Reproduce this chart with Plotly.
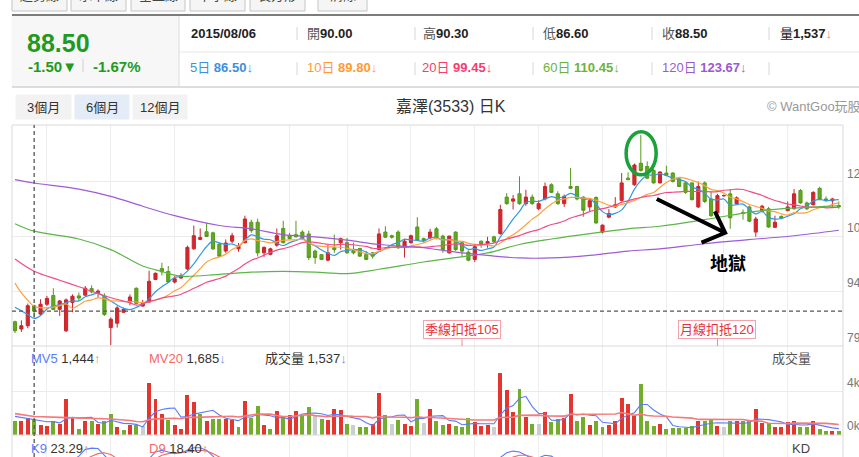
import numpy as np
import pandas as pd
import plotly.graph_objects as go
from plotly.subplots import make_subplots

W, H = 859, 457

# daily candles (6 months of 3533)
opens = [85.6, 83.6, 84.5, 90.0, 87.7, 90.4, 92.8, 89.0, 83.1, 90.9,
         92.7, 92.9, 94.7, 93.6, 92.6, 84.0, 85.2, 88.2, 91.0, 94.8,
         89.9, 91.0, 97.2, 100.2, 99.4, 96.5, 97.6, 100.1, 105.6, 108.2,
         110.3, 110.0, 106.9, 105.0, 107.7, 105.6, 107.3, 112.9, 112.9, 104.5,
         104.1, 106.6, 111.2, 109.2, 109.5, 110.2, 109.7, 105.0, 104.0, 102.5,
         105.9, 107.3, 107.3, 105.1, 105.7, 104.1, 104.5, 105.4, 110.2, 109.2,
         110.2, 106.2, 107.3, 111.6, 108.4, 108.6, 111.1, 109.1, 104.5, 110.2,
         107.3, 104.7, 102.7, 107.7, 107.1, 108.9, 109.8, 119.8, 118.7, 120.7,
         118.0, 119.8, 116.6, 119.3, 123.2, 120.7, 118.0, 122.7, 122.7, 119.8,
         117.1, 119.7, 110.2, 114.3, 117.1, 118.9, 125.0, 123.2, 129.1, 128.2,
         127.1, 123.7, 126.4, 126.4, 124.8, 123.7, 123.7, 117.1, 123.7, 119.3,
         115.5, 120.2, 120.7, 118.0, 115.6, 117.1, 110.2, 115.9, 116.6, 111.5,
         114.5, 116.1, 116.6, 121.6, 118.2, 117.7, 122.2, 119.3, 118.8, 117.5]
highs = [85.9, 86.0, 90.6, 90.3, 91.8, 92.7, 94.8, 91.6, 92.0, 93.1,
         93.6, 95.4, 95.6, 94.5, 93.4, 86.8, 89.9, 89.5, 93.1, 95.0,
         91.6, 99.6, 99.1, 101.8, 100.9, 98.1, 98.9, 106.5, 112.0, 111.2,
         112.7, 110.3, 107.2, 108.2, 110.0, 107.2, 114.7, 113.6, 113.9, 106.3,
         105.9, 111.2, 113.3, 110.0, 113.3, 110.7, 110.6, 105.4, 104.2, 106.8,
         109.5, 108.7, 108.6, 107.3, 105.9, 105.0, 104.7, 111.2, 111.8, 109.5,
         110.7, 108.4, 109.5, 114.3, 108.7, 111.1, 111.6, 109.5, 109.2, 110.4,
         107.4, 105.2, 106.8, 107.9, 108.9, 109.2, 117.7, 120.9, 120.4, 125.5,
         121.8, 120.5, 118.9, 123.8, 123.6, 121.4, 120.5, 127.8, 122.9, 120.0,
         119.3, 120.0, 112.3, 116.5, 119.8, 126.4, 126.6, 129.0, 136.8, 129.6,
         127.5, 126.8, 128.4, 126.6, 125.0, 124.1, 123.8, 124.1, 124.1, 121.4,
         120.7, 120.5, 122.0, 120.0, 116.4, 117.5, 114.4, 117.7, 117.1, 114.7,
         114.8, 118.6, 122.0, 122.0, 118.6, 121.4, 122.6, 120.0, 119.6, 118.6]
lows = [82.5, 82.8, 83.8, 86.6, 87.2, 89.9, 88.8, 87.2, 82.8, 88.2,
        91.3, 92.7, 93.4, 92.2, 87.2, 79.2, 84.0, 88.1, 90.1, 90.4,
        89.8, 90.8, 97.0, 98.3, 96.3, 96.1, 97.4, 99.8, 105.4, 108.0,
        108.9, 105.3, 103.3, 104.5, 107.1, 104.8, 107.1, 110.0, 103.5, 103.4,
        103.8, 106.2, 107.1, 108.2, 108.8, 108.0, 102.5, 101.5, 102.5, 102.2,
        104.5, 105.4, 104.3, 104.1, 103.4, 102.5, 102.9, 105.2, 108.6, 108.4,
        105.6, 103.2, 107.0, 107.7, 107.3, 108.2, 108.2, 104.5, 104.3, 105.0,
        103.4, 102.2, 102.0, 105.9, 105.9, 107.2, 109.5, 117.7, 116.4, 117.7,
        117.4, 117.7, 116.2, 118.9, 120.9, 117.7, 117.1, 122.0, 118.9, 114.4,
        115.9, 112.5, 109.8, 114.0, 116.8, 118.6, 124.4, 122.9, 126.8, 124.8,
        123.5, 123.5, 125.6, 123.8, 122.6, 120.7, 118.9, 116.8, 118.2, 114.4,
        115.0, 119.9, 111.1, 117.7, 113.6, 112.9, 108.9, 115.6, 111.4, 111.4,
        113.7, 115.9, 116.4, 118.0, 116.2, 117.5, 118.9, 118.6, 116.8, 116.6]
closes = [83.1, 84.5, 90.0, 88.5, 90.4, 92.0, 89.0, 91.3, 91.6, 92.6,
          92.1, 94.8, 93.8, 94.0, 87.6, 86.3, 89.4, 89.0, 92.4, 90.6,
          90.6, 96.7, 98.9, 99.3, 96.5, 97.4, 98.3, 106.0, 109.2, 108.7,
          109.0, 105.6, 103.6, 107.2, 109.2, 106.3, 113.8, 110.6, 104.5, 106.0,
          105.6, 109.2, 107.3, 108.4, 108.9, 108.4, 103.2, 103.2, 102.7, 104.5,
          105.4, 108.4, 104.5, 104.5, 103.6, 102.7, 103.6, 109.7, 108.8, 108.8,
          105.9, 107.7, 109.2, 107.9, 107.9, 110.2, 108.6, 105.4, 109.1, 105.4,
          105.0, 102.5, 106.2, 106.7, 107.6, 107.6, 116.4, 118.0, 119.3, 118.0,
          119.8, 118.0, 118.0, 122.7, 121.1, 118.0, 120.0, 122.2, 119.3, 116.2,
          118.8, 112.7, 112.1, 115.3, 117.7, 123.7, 124.6, 128.6, 127.1, 125.0,
          123.7, 126.7, 125.8, 124.1, 122.7, 121.1, 119.1, 122.7, 118.6, 114.7,
          120.2, 120.2, 114.1, 119.6, 115.3, 113.2, 113.8, 117.3, 111.6, 112.9,
          114.0, 117.1, 120.7, 118.2, 116.6, 121.1, 119.3, 118.8, 119.3, 117.1]
volumes = [1232, 1232, 1540, 1450, 924, 831, 1293, 970, 3326, 1632,
           554, 1293, 1232, 970, 1232, 1940, 708, 400, 862, 862,
           770, 4774, 3326, 1940, 1386, 924, 554, 3634, 3049, 1940,
           1232, 1450, 1478, 1478, 1386, 708, 3110, 1540, 2680, 924,
           554, 2156, 1694, 1786, 2156, 1786, 2525, 1755, 1478, 1324,
           2371, 2310, 970, 862, 708, 708, 970, 3911, 1786, 970,
           1386, 1001, 770, 3295, 1078, 2371, 1232, 862, 1001, 831,
           708, 1540, 1139, 831, 893, 677, 5701, 4158, 2094, 4220,
           1602, 970, 970, 2063, 1139, 1478, 1509, 3757, 1232, 1632,
           893, 1293, 708, 893, 1293, 3388, 2865, 1755, 4712, 1293,
           831, 970, 554, 646, 646, 646, 770, 1293, 1293, 1324,
           831, 708, 1232, 1232, 1232, 1232, 2371, 1078, 1078, 677,
           739, 1139, 1232, 708, 708, 1232, 554, 339, 339, 339]

# moving-average values read where the window reaches before the chart start
ma5_head_idx, ma5_head = [0, 1, 2, 3], [89.6, 88.6, 87.6, 86.5]
ma10_head_idx = [0, 1, 2, 3, 4, 5, 6, 7, 8]
ma10_head = [96.2, 93.5, 91.5, 89.8, 89.5, 89.4, 89.6, 90.0, 90.5]
ma20_head_idx, ma20_head = [0, 3, 7, 10, 15, 18], [102.8, 99.45, 97.0, 95.2, 92.2, 90.8]
ma60_idx = [0, 3, 10, 15, 20, 23, 26, 32, 37, 42, 47, 52, 57, 64, 69, 74, 79, 84, 90, 96, 101, 108, 116, 122, 129]
ma60_val = [112.5, 110.45, 108.3, 105.4, 100.9, 99.4, 98.1, 98.6, 99.2, 99.4, 99.2, 98.8, 100.0,
            102.0, 103.2, 104.5, 106.8, 108.3, 109.8, 111.1, 111.8, 113.6, 115.9, 116.8, 117.4]
ma120_idx = [0, 3, 10, 15, 20, 25, 32, 37, 42, 47, 52, 57, 64, 69, 74, 79, 84, 90, 96, 101, 108, 116, 122, 129]
ma120_val = [124.6, 123.67, 122.0, 120.0, 117.3, 114.7, 112.0, 111.1, 109.5, 108.9, 108.0, 106.8,
             105.9, 104.7, 103.8, 103.1, 103.1, 103.8, 105.0, 105.6, 107.0, 108.3, 109.2, 110.7]
mv5_head_idx, mv5_head = [0, 1, 2, 3], [1700, 1600, 1500, 1444]
mv20_head_idx, mv20_head = [0, 3, 7, 11, 15, 18], [1950, 1685, 1600, 1550, 1450, 1320]

# KD (only the upper part of the pane is visible)
k9_idx = [9, 10, 11, 12, 13, 14, 15, 20, 21, 22, 23, 24, 25, 26, 27, 28, 29, 30, 31, 32,
          75, 76, 77, 78, 79, 80, 81, 82, 83, 84, 85]
k9_val = [70, 75, 83, 84.5, 84, 76, 68, 66, 72, 80, 82, 80, 78, 79, 82, 85, 85, 82, 75, 68,
          68, 73, 79, 81, 80, 76, 72, 73, 76, 75, 70]
d9_idx = [10, 11, 12, 13, 14, 15, 16, 21, 22, 23, 24, 25, 26, 27, 28, 29, 30, 31, 32, 33,
          77, 78, 79, 80, 81, 82]
d9_val = [68, 71, 75, 78, 79, 77, 72, 66, 72, 76, 78, 79, 79, 80, 81, 82, 81, 78, 74, 70,
          70, 74, 76, 76, 74, 71]

price_ticks = [79, 94, 109, 124]
vol_ticks, vol_tick_text = [0, 4000], ['0k', '4k']
grid_days = [5, 15, 25, 43, 52, 62, 72, 82, 92, 102, 111, 121]
cursor_day = 3

n = len(closes)
days = list(range(n))
RED, GREEN, GRAY = '#e5352f', '#74ad2c', '#c9ced2'


def px(x):
    return x / W


def py(y):
    return 1 - y / H


def rolling_line(values, window, head_idx, head_val):
    roll = pd.Series(values, dtype=float).rolling(window).mean()
    xs = list(head_idx) + list(range(window - 1, n))
    ys = list(head_val) + list(roll.iloc[window - 1:])
    return xs, ys


vol_colors = []
for i in range(n):
    ref = opens[0] if i == 0 else closes[i - 1]
    if closes[i] > ref:
        vol_colors.append(RED)
    elif closes[i] < ref:
        vol_colors.append(GREEN)
    else:
        vol_colors.append(GRAY)

fig = make_subplots(rows=3, cols=1, shared_xaxes=True, vertical_spacing=0)

fig.add_trace(go.Candlestick(
    x=days, open=opens, high=highs, low=lows, close=closes,
    increasing=dict(line=dict(color='#c9252b', width=1), fillcolor='#d6262d'),
    decreasing=dict(line=dict(color='#56981b', width=1), fillcolor='#63a91f'),
    whiskerwidth=0, hoverinfo='skip'), row=1, col=1)

ma_specs = [
    (rolling_line(closes, 5, ma5_head_idx, ma5_head), '#3399e6'),
    (rolling_line(closes, 10, ma10_head_idx, ma10_head), '#ffa040'),
    (rolling_line(closes, 20, ma20_head_idx, ma20_head), '#f04d86'),
    ((ma60_idx, ma60_val), '#5cb548'),
    ((ma120_idx, ma120_val), '#a05ad6'),
]
for (xs, ys), color in ma_specs:
    fig.add_trace(go.Scatter(x=xs, y=ys, mode='lines', line=dict(color=color, width=1.2, shape='spline'),
                             hoverinfo='skip'), row=1, col=1)

fig.add_trace(go.Bar(x=days, y=volumes, marker=dict(color=vol_colors, line=dict(width=0)), width=0.62,
                     hoverinfo='skip'), row=2, col=1)
mx, my = rolling_line(volumes, 5, mv5_head_idx, mv5_head)
fig.add_trace(go.Scatter(x=mx, y=my, mode='lines', line=dict(color='#5b7cfa', width=1.1)), row=2, col=1)
mx, my = rolling_line(volumes, 20, mv20_head_idx, mv20_head)
fig.add_trace(go.Scatter(x=mx, y=my, mode='lines', line=dict(color='#f57a7a', width=1.6)), row=2, col=1)

fig.add_trace(go.Scatter(x=k9_idx, y=k9_val, mode='lines', line=dict(color='#5b7cfa', width=1.1)), row=3, col=1)
fig.add_trace(go.Scatter(x=d9_idx, y=d9_val, mode='lines', line=dict(color='#f06a6a', width=1.1)), row=3, col=1)

x_range = [-0.47, 129.66]
fig.update_xaxes(domain=[px(12), px(843)], range=x_range, tickvals=grid_days, showticklabels=False,
                 showgrid=True, gridcolor='#eeeeee', zeroline=False, ticks='', showline=False,
                 rangeslider_visible=False, automargin=False)

fig.update_layout(
    yaxis=dict(domain=[py(346), py(125)], range=[78.95, 139.58], side='right', tickvals=price_ticks,
               gridcolor='#ebebeb', zeroline=False, ticks='', ticklabelposition='outside top',
               ticklabelstandoff=3, automargin=False, tickfont=dict(size=12, color='#777')),
    yaxis2=dict(domain=[py(435), py(346)], range=[-30, 8223], side='right', tickvals=vol_ticks,
                ticktext=vol_tick_text, gridcolor='#ebebeb', zeroline=False, ticks='',
                ticklabelposition='outside top', ticklabelstandoff=3, automargin=False,
                tickfont=dict(size=12, color='#777')),
    yaxis3=dict(domain=[0, py(435)], range=[74, 100], showticklabels=False, showgrid=False, zeroline=False,
                automargin=False),
)

shapes = []
annotations = []


def line_px(x0, y0, x1, y1, color, width=1, dash='solid'):
    shapes.append(dict(type='line', xref='paper', yref='paper', x0=px(x0), y0=py(y0), x1=px(x1), y1=py(y1),
                       line=dict(color=color, width=width, dash=dash), layer='above'))


def rect_px(x0, y0, x1, y1, fill, border=None):
    shapes.append(dict(type='rect', xref='paper', yref='paper', x0=px(x0), y0=py(y0), x1=px(x1), y1=py(y1),
                       fillcolor=fill, line=dict(color=border or fill, width=1), layer='below'))


def text_px(x, y, text, size=13, color='#333', anchor='left'):
    annotations.append(dict(xref='paper', yref='paper', x=px(x), y=py(y), text=text, showarrow=False,
                            xanchor=anchor, yanchor='middle', font=dict(size=size, color=color)))


# toolbar buttons (cut off by the top edge)
for (x0, x1), name in zip([(12, 67), (71, 126), (131, 185), (190, 245), (250, 305), (318, 367)],
                          ['趨勢線', '水平線', '垂直線', '十字線', '長方形', '清除']):
    rect_px(x0, -14, x1, 11, '#f5f5f5', '#c4c4c4')
    text_px((x0 + x1) / 2, -4, name, 13, '#444', 'center')

# quote header
line_px(12, 15, 859, 15, '#7c7c7c', 2)
rect_px(12, 16, 179, 86, '#f7f7f7')
line_px(179, 16, 179, 87, '#dddddd')
line_px(179, 52, 859, 52, '#e6e6e6')
line_px(12, 87, 859, 87, '#dddddd', 2)
for sx in [297, 415, 533, 652, 769]:
    line_px(sx, 27, sx, 40, '#d6d6d6')
    line_px(sx, 62, sx, 75, '#d6d6d6')
line_px(83, 59, 83, 72, '#d0d0d0')

text_px(25, 43, '<b>88.50</b>', 25, '#1f9b1f')
text_px(26, 66, '<b>-1.50▼</b>', 15, '#1f9b1f')
text_px(91, 66, '<b>-1.67%</b>', 15, '#1f9b1f')

text_px(189, 33, '<b>2015/08/06</b>', 13, '#222')
for x, lab, val in [(305, '開', '90.00'), (421, '高', '90.30'), (541, '低', '86.60'), (660, '收', '88.50')]:
    text_px(x, 33, f"<span style='color:#555'>{lab}</span><b>{val}</b>", 13, '#222')
text_px(778, 33, "量<b>1,537</b><span style='color:#d58a8a'>↓</span>", 13, '#222')

for x, lab, val, color in [(188, '5日', '86.50', '#3d8fe0'), (305, '10日', '89.80', '#ff9a33'),
                           (420, '20日', '99.45', '#f53d6e'), (541, '60日', '110.45', '#6cb33a'),
                           (660, '120日', '123.67', '#9b59d0')]:
    text_px(x, 68, f"{lab} <b>{val}</b>↓", 13, color)

# period buttons and title
for (x0, x1), name, fill in zip([(16, 71), (75, 129), (133, 187)], ['3個月', '6個月', '12個月'],
                                ['#f2f2f2', '#e4edf7', '#f2f2f2']):
    rect_px(x0, 95, x1, 119, fill)
    text_px((x0 + x1) / 2, 107, name, 13, '#333', 'center')
text_px(451, 106, '嘉澤(3533) 日K', 16, '#333', 'center')
text_px(765, 106, '© WantGoo玩股網', 13, '#999')

# chart frame
for yy in [125, 346, 435]:
    line_px(12, yy, 843, yy, '#d9d9d9')
line_px(12, 125, 12, 460, '#d9d9d9')
line_px(843, 125, 843, 460, '#d9d9d9')

# crosshair on 2015/08/06
shapes.append(dict(type='line', xref='x', yref='paper', x0=cursor_day, x1=cursor_day, y0=0, y1=py(125),
                   line=dict(color='#555', width=1.3, dash='4px,3px')))
shapes.append(dict(type='line', xref='paper', yref='y', x0=px(12), x1=px(843), y0=closes[cursor_day],
                   y1=closes[cursor_day], line=dict(color='#555', width=1.3, dash='4px,3px')))

# deduction markers for the 60-day and 20-day averages
for name, day in [('季線扣抵', n - 60), ('月線扣抵', n - 20)]:
    shapes.append(dict(type='line', xref='x', yref='paper', x0=day, x1=day, y0=py(338), y1=py(346),
                       line=dict(color='#f08a92', width=1)))
    annotations.append(dict(xref='x', yref='paper', x=day, y=py(329), text=f'{name}{closes[day]:.0f}',
                            showarrow=False, xanchor='center', yanchor='middle', bgcolor='white',
                            bordercolor='#f5a3aa', borderwidth=1, borderpad=1,
                            font=dict(size=13, color='#e8323b')))

# hand drawn marks
shapes.append(dict(type='circle', xref='x', yref='y', x0=95.7, x1=100.4, y0=125.9, y1=137.75,
                   line=dict(color='#19a13c', width=3.5)))
shapes.append(dict(type='path', xref='x', yref='y',
                   path='M 100.5,119.3 L 111.2,110.0 M 109.6,115.9 L 111.2,110.0 L 107.5,107.3',
                   line=dict(color='black', width=4)))
annotations.append(dict(xref='x', yref='y', x=111.6, y=102.1, text='<b>地獄</b>', showarrow=False,
                        font=dict(size=18, color='black', family='Noto Sans CJK TC')))

# pane captions
text_px(29, 358, "<span style='color:#5b7cfa'>MV5</span> 1,444<span style='color:#d58a8a'>↑</span>")
text_px(147, 358, "<span style='color:#f26b6b'>MV20</span> 1,685<span style='color:#7f93d9'>↓</span>")
text_px(263, 358, "成交量 1,537<span style='color:#7f93d9'>↓</span>")
text_px(770, 358, '成交量', 13, '#555')
text_px(29, 448, "<span style='color:#5b7cfa'>K9</span> 23.29<span style='color:#d58a8a'>↑</span>")
text_px(147, 448, "<span style='color:#f26b6b'>D9</span> 18.40<span style='color:#d58a8a'>↑</span>")
text_px(790, 448, 'KD', 13, '#444')

fig.update_layout(
    width=W, height=H, margin=dict(l=0, r=0, t=0, b=0, autoexpand=False), autosize=False,
    paper_bgcolor='white', plot_bgcolor='white', showlegend=False, bargap=0,
    font=dict(family="Arial, 'Liberation Sans', 'Noto Sans CJK TC', sans-serif", color='#333'),
    shapes=shapes, annotations=annotations,
)

fig.write_html("out.html", config={'displayModeBar': False},
               post_script="document.body.style.margin='0';document.body.style.overflow='hidden';")
